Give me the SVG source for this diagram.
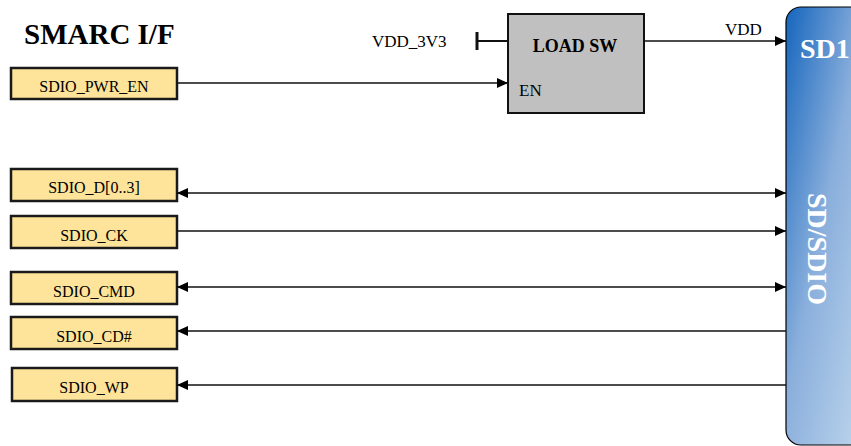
<svg xmlns="http://www.w3.org/2000/svg" width="851" height="446" viewBox="0 0 851 446">
<defs>
<linearGradient id="sdg" x1="0" y1="0" x2="1" y2="1">
<stop offset="0" stop-color="#1565bd"/>
<stop offset="0.45" stop-color="#8aafdc"/>
<stop offset="1" stop-color="#c5dbef"/>
</linearGradient>
<marker id="ah" markerWidth="11" markerHeight="10" refX="11" refY="5" orient="auto-start-reverse" markerUnits="userSpaceOnUse">
<path d="M0,0 L11,5 L0,10 z" fill="#000"/>
</marker>
</defs>
<style>
.t{font-family:"Liberation Serif","Times New Roman",serif;fill:#000}
.pin{fill:#fde49a;stroke:#1a1a1a;stroke-width:2.5}
.pt{font-family:"Liberation Serif","Times New Roman",serif;font-size:16px;text-anchor:middle;fill:#000}
.w{stroke:#111;stroke-width:1.4;fill:none}
.wt{font-family:"Liberation Serif","Times New Roman",serif;font-size:28px;font-weight:bold;fill:#fff}
</style>
<text class="t" x="24" y="44" font-size="29" font-weight="bold">SMARC I/F</text>
<g id="sd1">
<rect x="786" y="7" width="90" height="438" rx="15" fill="url(#sdg)" stroke="#000" stroke-width="1.2"/>
<text class="wt" x="800" y="58">SD1</text>
<text class="wt" transform="translate(808,249) rotate(90)" text-anchor="middle">SD/SDIO</text>
</g>
<g id="loadsw">
<rect x="508" y="14" width="136" height="99" fill="#c0c0c0" stroke="#111" stroke-width="2"/>
<text class="t" x="575" y="52" font-size="18" font-weight="bold" text-anchor="middle">LOAD SW</text>
<text class="t" x="519" y="96" font-size="17">EN</text>
</g>
<g id="vdd3v3">
<text class="t" x="372" y="47" font-size="17">VDD_3V3</text>
</g>
<g id="pwr_en"><rect class="pin" x="11" y="68" width="166" height="31"/><text class="pt" x="94" y="92">SDIO_PWR_EN</text></g>
<g id="d"><rect class="pin" x="11" y="169" width="166" height="32"/><text class="pt" x="94" y="192.5">SDIO_D[0..3]</text></g>
<g id="ck"><rect class="pin" x="11" y="216" width="166" height="32"/><text class="pt" x="94" y="240.5">SDIO_CK</text></g>
<g id="cmd"><rect class="pin" x="11" y="272" width="166" height="32"/><text class="pt" x="94" y="296.5">SDIO_CMD</text></g>
<g id="cd"><rect class="pin" x="11" y="317" width="166" height="32"/><text class="pt" x="94" y="341.5">SDIO_CD#</text></g>
<g id="wp"><rect class="pin" x="12" y="368" width="165" height="33"/><text class="pt" x="94" y="393">SDIO_WP</text></g>
<g id="connectors">
<path d="M477,32 V50" stroke="#111" stroke-width="3" fill="none"/>
<path d="M477,41 H508" stroke="#111" stroke-width="2" fill="none"/>
<path class="w" d="M644,41 H786" marker-end="url(#ah)"/>
<text class="t" x="725" y="35" font-size="17">VDD</text>
<path class="w" d="M177,83 H508" marker-end="url(#ah)"/>
<path class="w" d="M177,193 H786" marker-start="url(#ah)" marker-end="url(#ah)"/>
<path class="w" d="M177,231 H786" marker-end="url(#ah)"/>
<path class="w" d="M177,287 H786" marker-start="url(#ah)" marker-end="url(#ah)"/>
<path class="w" d="M177,331 H786" marker-start="url(#ah)"/>
<path class="w" d="M177,385 H786" marker-start="url(#ah)"/>
</g>
</svg>
